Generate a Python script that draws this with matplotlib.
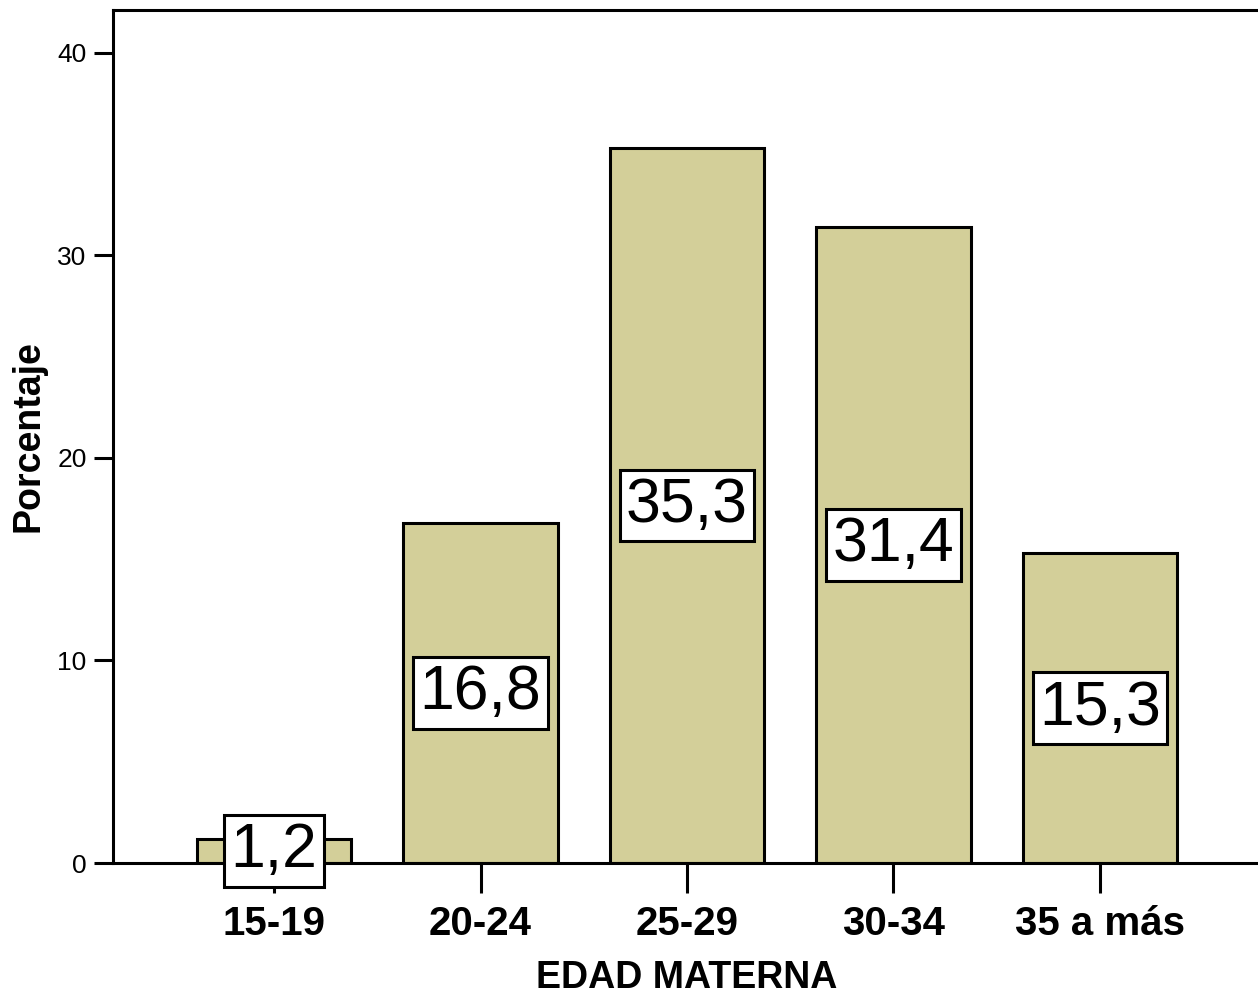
import matplotlib.pyplot as plt

# Distribución de la edad materna (%)
categorias = ["15-19", "20-24", "25-29", "30-34", "35 a más"]
porcentajes = [1.2, 16.8, 35.3, 31.4, 15.3]
etiquetas = ["1,2", "16,8", "35,3", "31,4", "15,3"]

plt.rcParams['font.family'] = ['Liberation Sans', 'DejaVu Sans']

fig = plt.figure(figsize=(12.58, 9.89), dpi=100)
ax = fig.add_axes([0.0898, 0.1274, 0.9126, 0.8625])

x = range(len(categorias))
ax.bar(x, porcentajes, width=0.75, color='#d3cf99', edgecolor='black',
       linewidth=2.2, zorder=2)

# etiquetas de valor en cajas blancas, a media altura de cada barra
for xi, v, t in zip(x, porcentajes, etiquetas):
    ax.text(xi, v / 2, t, ha='center', va='center', fontsize=45,
            zorder=5, clip_on=False,
            bbox=dict(boxstyle='square,pad=0.1', facecolor='white',
                      edgecolor='black', linewidth=2.2))

ax.set_xlim(-0.78, 4.78)
ax.set_ylim(0, 42.1)
ax.set_yticks([0, 10, 20, 30, 40])
ax.set_xticks(list(x))
ax.set_xticklabels(categorias, fontsize=29, fontweight='bold')
ax.tick_params(axis='y', labelsize=19, length=14, width=2.2, pad=5)
ax.tick_params(axis='x', length=21.5, width=2.2, pad=9)

for s in ['left', 'top', 'bottom']:
    ax.spines[s].set_linewidth(2.2)
ax.spines['right'].set_visible(False)

ax.set_ylabel("Porcentaje", fontsize=27, fontweight='bold', labelpad=8)
ax.set_xlabel("EDAD MATERNA", fontsize=27, fontweight='bold', labelpad=12)

fig.savefig("out.png", dpi=100)
